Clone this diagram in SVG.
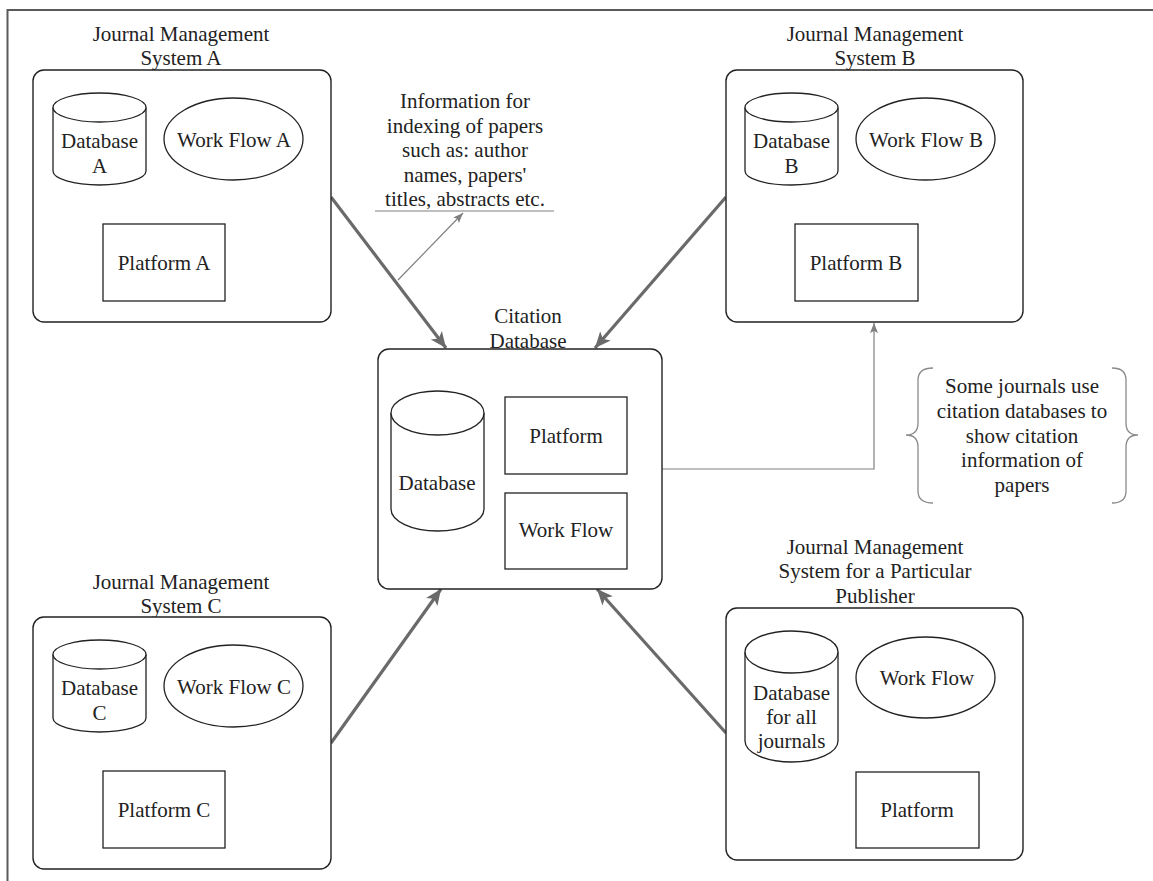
<svg xmlns="http://www.w3.org/2000/svg" width="1153" height="881" viewBox="0 0 1153 881">
<defs>
<style>
text{font-family:'Liberation Serif','DejaVu Serif',serif;font-size:21px;fill:#222;text-anchor:middle}
.box{fill:#fff;stroke:#222;stroke-width:1.4}
.shape{fill:#fff;stroke:#222;stroke-width:1.3}
.thick{fill:none;stroke:#6a6a6a;stroke-width:3.2;marker-end:url(#bigArrow)}
.thin{fill:none;stroke:#808080;stroke-width:1.2;marker-end:url(#smallArrow)}
.brace{fill:none;stroke:#8a8a8a;stroke-width:1.3}
.frame{fill:none;stroke:#5a5a5a;stroke-width:2}
</style>
<marker id="bigArrow" markerUnits="userSpaceOnUse" markerWidth="18" markerHeight="16" refX="16" refY="7" orient="auto">
<path d="M0,0 L16,7 L0,14 L4,7 Z" fill="#6a6a6a"/>
</marker>
<marker id="smallArrow" markerUnits="userSpaceOnUse" markerWidth="12" markerHeight="10" refX="10" refY="4" orient="auto">
<path d="M0,0 L10,4 L0,8 L2,4 Z" fill="#808080"/>
</marker>
</defs>
<rect width="1153" height="881" fill="#fff"/>
<path class="frame" d="M7.5,881 L7.5,10 L1153,10"/>

<g id="connectors">
<path class="thick" d="M331,197 L446,348"/>
<path class="thick" d="M726,197 L595,348"/>
<path class="thick" d="M331,743 L441,589"/>
<path class="thick" d="M726,733 L597,589"/>
<path class="thin" d="M662,469 L874,469 L874,323"/>
<path class="thin" d="M398,280 L463,213"/>
</g>

<g id="jms-a">
<text x="181" y="41">Journal Management</text>
<text x="181" y="65">System A</text>
<rect class="box" x="33" y="70" width="298" height="252" rx="11"/>
<g id="db-a">
<path class="shape" d="M53,107.5 L53,171 A46.5,14 0 0 0 146,171 L146,107.5"/>
<ellipse class="shape" cx="99.5" cy="107.5" rx="46.5" ry="14.5"/>
<text x="99.5" y="148">Database</text>
<text x="99.5" y="173">A</text>
</g>
<g id="wf-a">
<ellipse class="shape" cx="233.5" cy="139" rx="69.5" ry="41"/>
<text x="234" y="147">Work Flow A</text>
</g>
<g id="pf-a">
<rect class="shape" x="103" y="224" width="122" height="77"/>
<text x="164" y="270">Platform A</text>
</g>
</g>

<g id="jms-b">
<text x="875" y="41">Journal Management</text>
<text x="875" y="65">System B</text>
<rect class="box" x="726" y="70" width="297" height="252" rx="11"/>
<g id="db-b">
<path class="shape" d="M745,107.5 L745,171 A46.5,14 0 0 0 838,171 L838,107.5"/>
<ellipse class="shape" cx="791.5" cy="107.5" rx="46.5" ry="14.5"/>
<text x="791.5" y="148">Database</text>
<text x="791.5" y="173">B</text>
</g>
<g id="wf-b">
<ellipse class="shape" cx="925.5" cy="139" rx="69.5" ry="41"/>
<text x="926" y="147">Work Flow B</text>
</g>
<g id="pf-b">
<rect class="shape" x="795" y="224" width="123" height="77"/>
<text x="856" y="270">Platform B</text>
</g>
</g>

<g id="annotation-index">
<text x="465" y="108">Information for</text>
<text x="465" y="133">indexing of papers</text>
<text x="465" y="157">such as: author</text>
<text x="465" y="182">names, papers'</text>
<text x="465" y="206">titles, abstracts etc.</text>
<line x1="375" y1="211" x2="554" y2="211" stroke="#808080" stroke-width="1.2"/>
</g>

<g id="citation-db">
<text x="528" y="323">Citation</text>
<rect class="box" x="378" y="349" width="284" height="240" rx="11"/>
<text x="528" y="348">Database</text>
<g id="db-c-main">
<path class="shape" d="M391,413 L391,509 A46.5,22 0 0 0 484,509 L484,413"/>
<ellipse class="shape" cx="437.5" cy="413" rx="46.5" ry="22"/>
<text x="437" y="490">Database</text>
</g>
<g id="pf-main">
<rect class="shape" x="505" y="397" width="122" height="77"/>
<text x="566" y="443">Platform</text>
</g>
<g id="wf-main">
<rect class="shape" x="505" y="493" width="122" height="76"/>
<text x="566" y="537">Work Flow</text>
</g>
</g>

<g id="annotation-citation">
<path class="brace" d="M933,368 Q918,368 918,380 L918,423 Q918,435 906,435 Q918,435 918,447 L918,491 Q918,503 933,503"/>
<path class="brace" d="M1112,368 Q1126,368 1126,380 L1126,423 Q1126,435 1138,435 Q1126,435 1126,447 L1126,491 Q1126,503 1112,503"/>
<text x="1022" y="393">Some journals use</text>
<text x="1022" y="418">citation databases to</text>
<text x="1022" y="443">show citation</text>
<text x="1022" y="467">information of</text>
<text x="1022" y="492">papers</text>
</g>

<g id="jms-c">
<text x="181" y="589">Journal Management</text>
<text x="181" y="613">System C</text>
<rect class="box" x="33" y="617" width="298" height="252" rx="11"/>
<g id="db-c">
<path class="shape" d="M53,654.5 L53,718 A46.5,14 0 0 0 146,718 L146,654.5"/>
<ellipse class="shape" cx="99.5" cy="654.5" rx="46.5" ry="14.5"/>
<text x="99.5" y="695">Database</text>
<text x="99.5" y="720">C</text>
</g>
<g id="wf-c">
<ellipse class="shape" cx="233.5" cy="686" rx="69.5" ry="41"/>
<text x="234" y="694">Work Flow C</text>
</g>
<g id="pf-c">
<rect class="shape" x="103" y="771" width="122" height="77"/>
<text x="164" y="817">Platform C</text>
</g>
</g>

<g id="jms-publisher">
<text x="875" y="554">Journal Management</text>
<text x="875" y="578">System for a Particular</text>
<text x="875" y="603">Publisher</text>
<rect class="box" x="726" y="608" width="297" height="252" rx="11"/>
<g id="db-d">
<path class="shape" d="M745,652 L745,741 A46.5,21 0 0 0 838,741 L838,652"/>
<ellipse class="shape" cx="791.5" cy="652" rx="46.5" ry="21"/>
<text x="791.5" y="700">Database</text>
<text x="791.5" y="724">for all</text>
<text x="791.5" y="748">journals</text>
</g>
<g id="wf-d">
<ellipse class="shape" cx="925.5" cy="677.5" rx="69.5" ry="40.5"/>
<text x="927" y="685">Work Flow</text>
</g>
<g id="pf-d">
<rect class="shape" x="856" y="772" width="123" height="76"/>
<text x="917" y="817">Platform</text>
</g>
</g>
</svg>
